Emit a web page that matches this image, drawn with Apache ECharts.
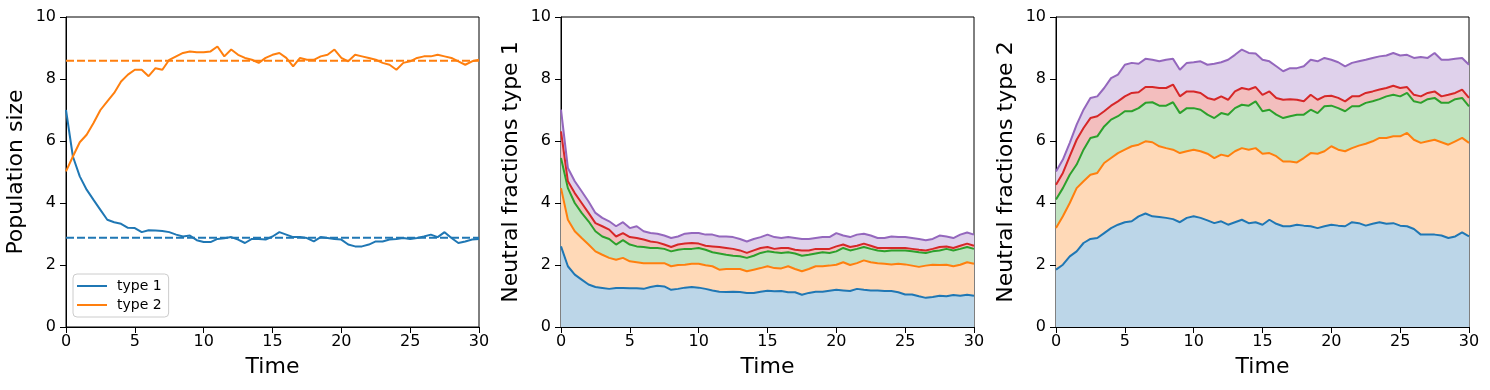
<!DOCTYPE html>
<html>
<head>
<meta charset="utf-8">
<script src="https://cdn.jsdelivr.net/npm/echarts@6/dist/echarts.min.js"></script>
<style>
html,body{margin:0;padding:0;background:#fff;}
#main{width:1490px;height:390px;}
</style>
</head>
<body>
<div id="main"></div>
<script>
// time axis, 0.5 steps
var times=[0,0.5,1,1.5,2,2.5,3,3.5,4,4.5,5,5.5,6,6.5,7,7.5,8,8.5,9,9.5,10,10.5,11,11.5,12,12.5,13,13.5,14,14.5,
	15,15.5,16,16.5,17,17.5,18,18.5,19,19.5,20,20.5,21,21.5,22,22.5,23,23.5,24,24.5,25,25.5,26,26.5,27,27.5,28,28.5,29,29.5,30];

// panel 1 : population size
var p1Type1=[7.0,5.5,4.86,4.43,4.1,3.78,3.46,3.38,3.33,3.2,
	3.19,3.06,3.12,3.11,3.1,3.06,2.98,2.92,2.95,2.8,
	2.74,2.74,2.84,2.86,2.9,2.82,2.71,2.84,2.84,2.82,
	2.92,3.06,2.98,2.9,2.9,2.87,2.76,2.9,2.87,2.84,
	2.82,2.66,2.6,2.6,2.66,2.76,2.76,2.82,2.84,2.87,
	2.84,2.87,2.92,2.98,2.9,3.06,2.87,2.71,2.76,2.82,2.84];
var p1Type2=[5.02,5.5,5.96,6.2,6.58,7.0,7.28,7.55,7.92,8.14,
	8.3,8.3,8.09,8.35,8.3,8.62,8.73,8.84,8.89,8.86,
	8.86,8.89,9.05,8.73,8.95,8.78,8.68,8.62,8.52,8.68,
	8.78,8.84,8.68,8.41,8.68,8.62,8.62,8.73,8.78,8.95,
	8.68,8.57,8.78,8.73,8.68,8.62,8.52,8.46,8.3,8.52,
	8.57,8.68,8.73,8.73,8.78,8.73,8.68,8.57,8.46,8.57,8.62];
var eqType1=2.88;
var eqType2=8.59;

// panel 2 : neutral fractions type 1 (cumulative)
var p2Blue=[2.6,1.96,1.69,1.53,1.37,1.29,1.26,1.23,1.26,1.26,
	1.25,1.25,1.23,1.29,1.33,1.31,1.2,1.23,1.27,1.29,
	1.27,1.23,1.18,1.14,1.13,1.14,1.13,1.1,1.1,1.14,
	1.17,1.15,1.16,1.12,1.12,1.04,1.1,1.14,1.14,1.17,
	1.2,1.18,1.16,1.23,1.2,1.18,1.18,1.16,1.16,1.12,
	1.05,1.05,0.99,0.94,0.97,1.01,0.99,1.03,1.01,1.04,1.01];
var p2Orange=[4.48,3.46,3.09,2.87,2.66,2.44,2.33,2.23,2.17,2.23,
	2.12,2.09,2.06,2.06,2.06,2.06,1.96,2.0,2.01,2.04,
	2.04,1.99,1.96,1.85,1.87,1.87,1.87,1.8,1.85,1.9,
	1.96,1.9,1.89,1.96,1.87,1.8,1.87,1.96,1.96,1.98,
	2.01,2.09,2.0,2.06,2.15,2.09,2.06,2.04,2.02,2.04,
	2.02,1.98,1.94,1.98,2.01,2.0,2.01,1.96,2.01,2.09,2.04];
var p2Green=[5.45,4.48,4.0,3.68,3.41,3.09,2.92,2.84,2.66,2.8,
	2.66,2.6,2.58,2.55,2.55,2.52,2.44,2.49,2.52,2.52,
	2.55,2.49,2.41,2.37,2.33,2.3,2.28,2.23,2.3,2.39,
	2.44,2.41,2.39,2.41,2.37,2.3,2.33,2.37,2.41,2.39,
	2.44,2.55,2.47,2.52,2.58,2.52,2.47,2.44,2.47,2.47,
	2.47,2.44,2.41,2.39,2.44,2.47,2.52,2.47,2.52,2.58,2.52];
var p2Red=[6.31,4.7,4.32,4.0,3.68,3.35,3.25,3.14,2.92,3.03,
	2.9,2.87,2.82,2.76,2.73,2.66,2.58,2.66,2.69,2.71,
	2.69,2.62,2.6,2.58,2.55,2.52,2.47,2.39,2.47,2.55,
	2.58,2.52,2.55,2.55,2.49,2.47,2.47,2.52,2.52,2.52,
	2.6,2.66,2.58,2.62,2.69,2.62,2.55,2.55,2.55,2.55,
	2.55,2.52,2.49,2.47,2.52,2.58,2.6,2.55,2.62,2.69,2.62];
var p2Purple=[7.01,5.13,4.7,4.38,4.05,3.68,3.52,3.41,3.25,3.38,
	3.19,3.25,3.09,3.03,3.01,2.95,2.87,2.92,3.01,3.03,
	3.03,2.98,2.98,2.92,2.92,2.9,2.84,2.76,2.84,2.9,
	2.98,2.9,2.87,2.9,2.87,2.84,2.84,2.87,2.9,2.9,
	3.03,2.95,2.9,2.98,3.01,2.95,2.87,2.87,2.92,2.9,
	2.9,2.87,2.84,2.8,2.84,2.95,2.92,2.87,2.98,3.05,2.98];

// panel 3 : neutral fractions type 2 (cumulative)
var p3Blue=[1.85,2.01,2.28,2.44,2.71,2.84,2.87,3.03,3.19,3.3,
	3.38,3.41,3.57,3.66,3.57,3.55,3.52,3.48,3.38,3.52,
	3.57,3.52,3.44,3.35,3.41,3.3,3.38,3.46,3.35,3.38,
	3.3,3.46,3.33,3.25,3.25,3.3,3.27,3.25,3.19,3.25,
	3.3,3.27,3.25,3.38,3.35,3.27,3.33,3.38,3.33,3.35,
	3.27,3.25,3.16,2.98,2.98,2.98,2.95,2.87,2.92,3.05,2.92];
var p3Orange=[3.19,3.57,4.0,4.48,4.7,4.91,4.97,5.29,5.45,5.61,
	5.72,5.83,5.88,5.99,5.96,5.83,5.77,5.72,5.61,5.67,
	5.72,5.67,5.59,5.45,5.56,5.51,5.67,5.77,5.72,5.77,
	5.59,5.61,5.51,5.34,5.34,5.31,5.45,5.61,5.59,5.67,
	5.83,5.72,5.67,5.77,5.85,5.91,5.99,6.1,6.1,6.15,
	6.15,6.26,6.04,5.94,5.99,6.04,5.96,5.88,5.99,6.1,5.94];
var p3Green=[4.11,4.48,4.91,5.24,5.72,6.1,6.15,6.47,6.69,6.8,
	6.96,6.96,7.06,7.23,7.25,7.14,7.14,7.25,6.9,7.06,
	7.06,7.01,6.85,6.74,6.9,6.85,7.06,7.17,7.14,7.28,
	6.96,7.01,6.85,6.74,6.8,6.85,6.85,7.01,6.9,7.12,
	7.14,7.06,6.96,7.12,7.12,7.23,7.28,7.35,7.44,7.49,
	7.44,7.55,7.28,7.23,7.35,7.39,7.23,7.23,7.35,7.39,7.12];
var p3Red=[4.59,4.97,5.51,6.04,6.42,6.74,6.8,6.96,7.14,7.28,
	7.44,7.55,7.57,7.74,7.74,7.71,7.71,7.82,7.44,7.6,
	7.6,7.55,7.39,7.33,7.44,7.33,7.6,7.71,7.66,7.74,
	7.49,7.6,7.39,7.33,7.35,7.33,7.28,7.49,7.33,7.44,
	7.46,7.39,7.28,7.44,7.44,7.55,7.6,7.66,7.71,7.78,
	7.71,7.74,7.49,7.44,7.55,7.6,7.44,7.49,7.55,7.66,7.39];
var p3Purple=[5.02,5.4,5.94,6.53,7.01,7.39,7.44,7.71,8.03,8.14,
	8.46,8.52,8.49,8.65,8.62,8.57,8.62,8.65,8.3,8.52,
	8.54,8.57,8.46,8.49,8.54,8.62,8.78,8.95,8.84,8.82,
	8.62,8.57,8.41,8.25,8.35,8.35,8.41,8.62,8.57,8.68,
	8.62,8.54,8.41,8.52,8.57,8.62,8.68,8.73,8.76,8.84,
	8.76,8.78,8.68,8.71,8.68,8.84,8.62,8.62,8.65,8.68,8.46];

var lineColors=['#1f77b4','#ff7f0e','#2ca02c','#d62728','#9467bd'];
var fillColors=['#bcd6e8','#ffd9b7','#c0e3c0','#f3bebe','#dfd1eb'];
var yNames=['Population size','Neutral fractions type 1','Neutral fractions type 2'];
var gridLefts=[66,561,1056];
var fontName='DejaVu Sans';

function pairs(vals){
	var out=[];
	for (var i=0;i<times.length;i++){
		out.push([times[i],vals[i]]);
	}
	return out;
}

var grids=[],xAxes=[],yAxes=[],series=[];
for (var g=0;g<3;g++){
	grids.push({left:gridLefts[g],top:17,width:413,height:310,show:true,borderColor:'#000',borderWidth:1,containLabel:false});
	xAxes.push({
		gridIndex:g,type:'value',min:0,max:30,interval:5,
		name:'Time',nameLocation:'middle',nameGap:29,
		nameTextStyle:{fontFamily:fontName,fontSize:22,color:'#000'},
		axisLine:{show:true,lineStyle:{color:'#000',width:1}},
		axisTick:{show:true,inside:false,length:6,lineStyle:{color:'#000'}},
		axisLabel:{fontFamily:fontName,fontSize:16,color:'#000',margin:7},
		splitLine:{show:false}
	});
	yAxes.push({
		gridIndex:g,type:'value',min:0,max:10,interval:2,
		name:yNames[g],nameLocation:'middle',nameGap:39,
		nameTextStyle:{fontFamily:fontName,fontSize:22,color:'#000'},
		axisLine:{show:true,lineStyle:{color:'#000',width:1}},
		axisTick:{show:true,inside:false,length:6,lineStyle:{color:'#000'}},
		axisLabel:{fontFamily:fontName,fontSize:16,color:'#000',margin:10},
		splitLine:{show:false}
	});
}

// panel 1
series.push({name:'type 1',type:'line',xAxisIndex:0,yAxisIndex:0,data:pairs(p1Type1),symbol:'none',
	lineStyle:{color:lineColors[0],width:2},itemStyle:{color:lineColors[0]},z:3});
series.push({name:'type 2',type:'line',xAxisIndex:0,yAxisIndex:0,data:pairs(p1Type2),symbol:'none',
	lineStyle:{color:lineColors[1],width:2},itemStyle:{color:lineColors[1]},z:3});
series.push({name:'eq 1',type:'line',xAxisIndex:0,yAxisIndex:0,data:[[0,eqType1],[30,eqType1]],symbol:'none',
	lineStyle:{color:lineColors[0],width:2,type:[8,3]},z:2});
series.push({name:'eq 2',type:'line',xAxisIndex:0,yAxisIndex:0,data:[[0,eqType2],[30,eqType2]],symbol:'none',
	lineStyle:{color:lineColors[1],width:2,type:[8,3]},z:2});

// panels 2 and 3: opaque fills painted from the top layer down, lines on top
function addStack(idx,cums){
	for (var k=cums.length-1;k>=0;k--){
		series.push({name:'fill'+idx+'_'+k,type:'line',xAxisIndex:idx,yAxisIndex:idx,data:pairs(cums[k]),
			symbol:'none',lineStyle:{width:0},areaStyle:{color:fillColors[k],opacity:1,origin:'start'},z:1,silent:true});
	}
	for (var k=0;k<cums.length;k++){
		series.push({name:'line'+idx+'_'+k,type:'line',xAxisIndex:idx,yAxisIndex:idx,data:pairs(cums[k]),
			symbol:'none',lineStyle:{color:lineColors[k],width:2},z:3});
	}
}
addStack(1,[p2Blue,p2Orange,p2Green,p2Red,p2Purple]);
addStack(2,[p3Blue,p3Orange,p3Green,p3Red,p3Purple]);

var myChart=echarts.init(document.getElementById('main'));
myChart.setOption({
	animation:false,
	backgroundColor:'#fff',
	legend:{
		data:[{name:'type 1',icon:'rect'},{name:'type 2',icon:'rect'}],
		orient:'vertical',left:73,top:274,
		itemWidth:30,itemHeight:2,itemGap:5,
		padding:[5,7,5,4],
		borderColor:'#cccccc',borderWidth:1,borderRadius:4,
		backgroundColor:'rgba(255,255,255,0.8)',
		textStyle:{fontFamily:fontName,fontSize:14,color:'#000',padding:[0,0,0,5]}
	},
	grid:grids,
	xAxis:xAxes,
	yAxis:yAxes,
	series:series
});
</script>
</body>
</html>
